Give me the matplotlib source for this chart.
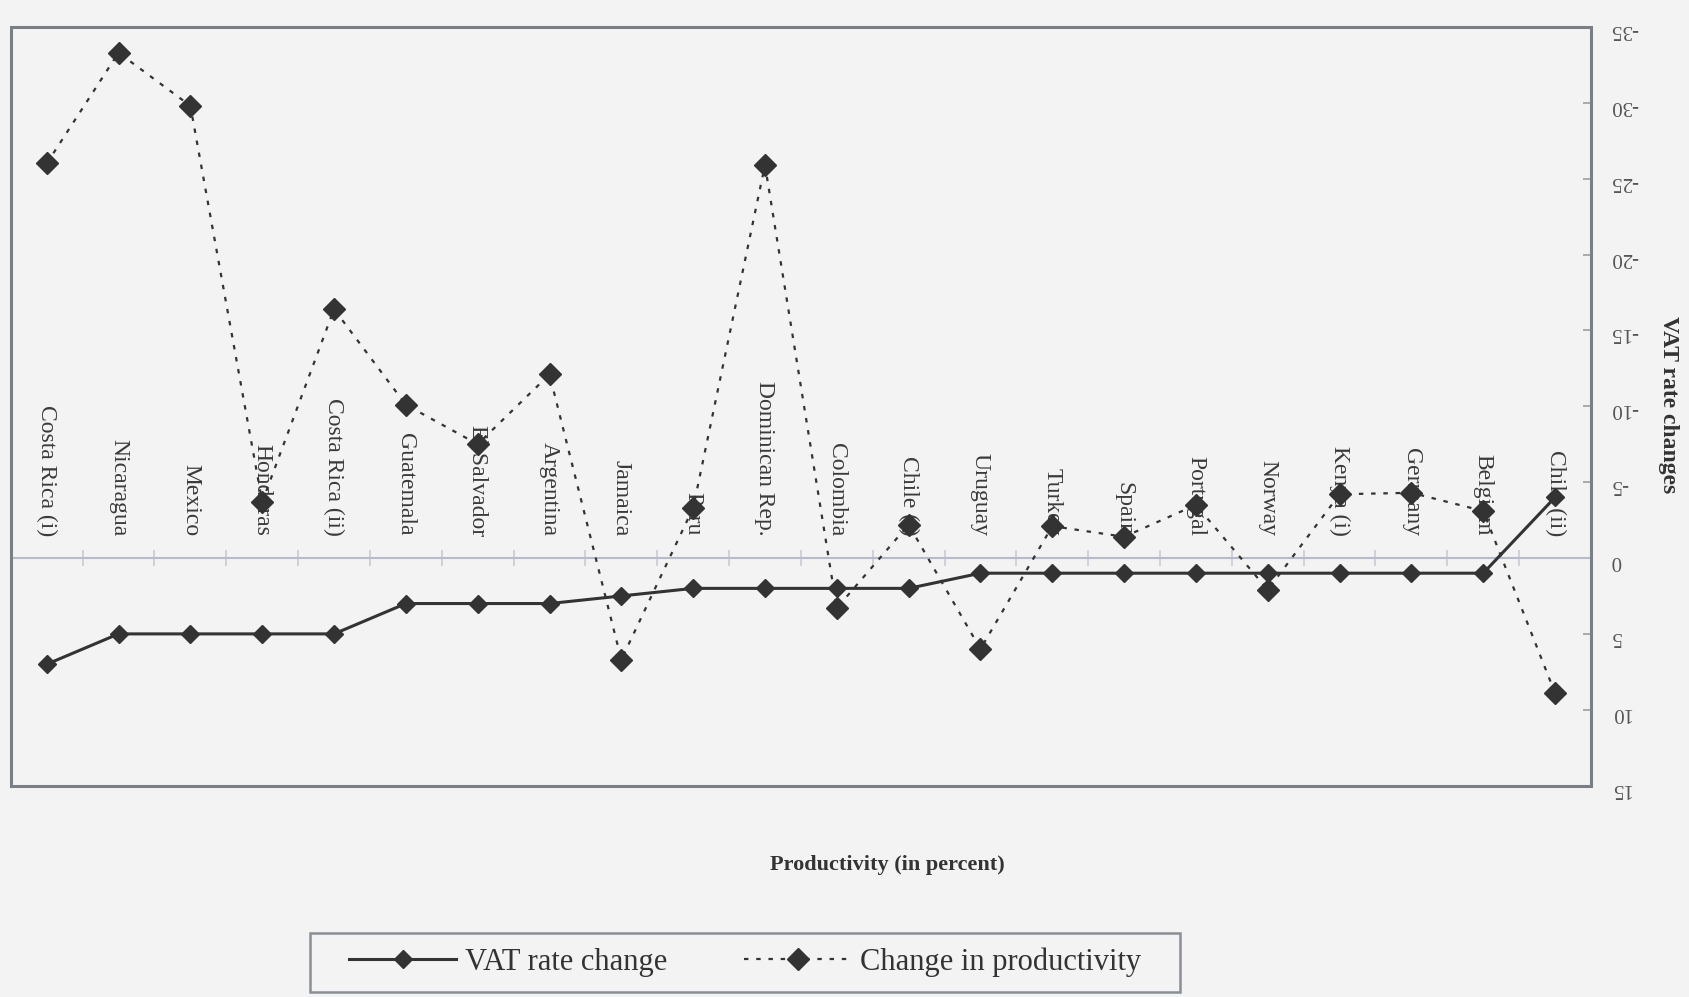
import numpy as np
import matplotlib
matplotlib.use("Agg")
import matplotlib.pyplot as plt
from matplotlib.lines import Line2D
from matplotlib.patches import Rectangle

plt.rcParams['font.family'] = ['Liberation Serif', 'DejaVu Serif']
plt.rcParams['axes.unicode_minus'] = False

countries = ['Costa Rica (i)', 'Nicaragua', 'Mexico', 'Honduras', 'Costa Rica (ii)',
             'Guatemala', 'El Salvador', 'Argentina', 'Jamaica', 'Peru',
             'Dominican Rep.', 'Colombia', 'Chile (i)', 'Uruguay', 'Turkey', 'Spain',
             'Portugal', 'Norway', 'Kenya (i)', 'Germany', 'Belgium', 'Chile (ii)']

# values on the reversed scale (positive runs downward)
vat_change = [7, 5, 5, 5, 5, 3, 3, 3, 2.5, 2, 2, 2, 2, 1, 1, 1, 1, 1, 1, 1, 1, -4]
prod_change = [-26, -33.3, -29.8, -3.7, -16.4, -10.1, -7.5, -12.1, 6.7, -3.3,
               -25.9, 3.3, -2.2, 6.0, -2.1, -1.4, -3.5, 2.1, -4.2, -4.3, -3.1, 8.9]

yticks = [-35, -30, -25, -20, -15, -10, -5, 0, 5, 10, 15]

bg = '#f3f3f3'
ink = '#333333'

fig = plt.figure(figsize=(16.9, 9.97), dpi=100, facecolor=bg)
ax = fig.add_axes([0.0064, 0.212, 0.935, 0.761], facecolor=bg)

x = np.arange(len(countries))
ax.plot(x, vat_change, color=ink, lw=2.2, marker='D', ms=9, mfc=ink, mec=ink,
        label='VAT rate change', zorder=3)
ax.plot(x, prod_change, color=ink, lw=1.6, ls=(0, (2, 3.5)), marker='D', ms=11,
        mfc=ink, mec=ink, label='Change in productivity', zorder=3)

ax.set_xlim(-0.5, len(countries) - 0.5)
ax.set_ylim(15, -35)

# zero line as the category axis
for s in ['left', 'top', 'right']:
    ax.spines[s].set_visible(False)
ax.spines['bottom'].set_position(('data', 0))
ax.spines['bottom'].set_color('#b4bccb')
ax.spines['bottom'].set_linewidth(1.5)
ax.set_xticks([])
ax.set_xticks(np.arange(0.5, len(countries) - 0.5, 1), minor=True)
ax.tick_params(axis='x', which='minor', direction='inout', length=12,
               color='#c8ccd4', width=1.2)

for xi, name in zip(x, countries):
    ax.annotate(name, xy=(xi, 0), xytext=(0, 16), textcoords='offset points',
                rotation=270, ha='center', va='bottom', fontsize=17,
                color='#3a3a3a', zorder=2)

# plot frame
ax.add_patch(Rectangle((0, 0), 1, 1, transform=ax.transAxes, fill=False,
                       edgecolor='#7a7f86', lw=2.2, clip_on=False, zorder=4))

ax.yaxis.tick_right()
ax.set_yticks(yticks)
ax.tick_params(axis='y', direction='in', length=6, color='#9aa0a8', width=1.2,
               labelsize=15, labelcolor='#555555', pad=14)
for lbl in ax.get_yticklabels():
    lbl.set_rotation(180)

fig.text(0.987, 0.594, 'VAT rate changes', rotation=270, ha='center', va='center',
         fontsize=17, fontweight='bold', color='#333333')
fig.text(0.525, 0.132, 'Productivity (in percent)', ha='center', va='center',
         fontsize=16, fontweight='bold', color='#333333')

handles = [Line2D([], [], color=ink, lw=2.2, marker='D', ms=9),
           Line2D([], [], color=ink, lw=1.6, ls=(0, (2, 3.5)), marker='D', ms=11)]
leg = fig.legend(handles, ['VAT rate change', 'Change in productivity'],
                 loc='center', bbox_to_anchor=(0.441, 0.035), ncol=2, fontsize=22,
                 frameon=False, handlelength=3.5, columnspacing=2.5,
                 borderpad=0.5, handletextpad=0.3)
for t in leg.get_texts():
    t.set_color('#333333')
# legend box
fig.add_artist(Rectangle((0.1837, 0.0054), 0.5146, 0.0584, transform=fig.transFigure,
                         fill=False, edgecolor='#8a8f96', lw=1.8))

fig.savefig('out.png', dpi=100, facecolor=bg)
